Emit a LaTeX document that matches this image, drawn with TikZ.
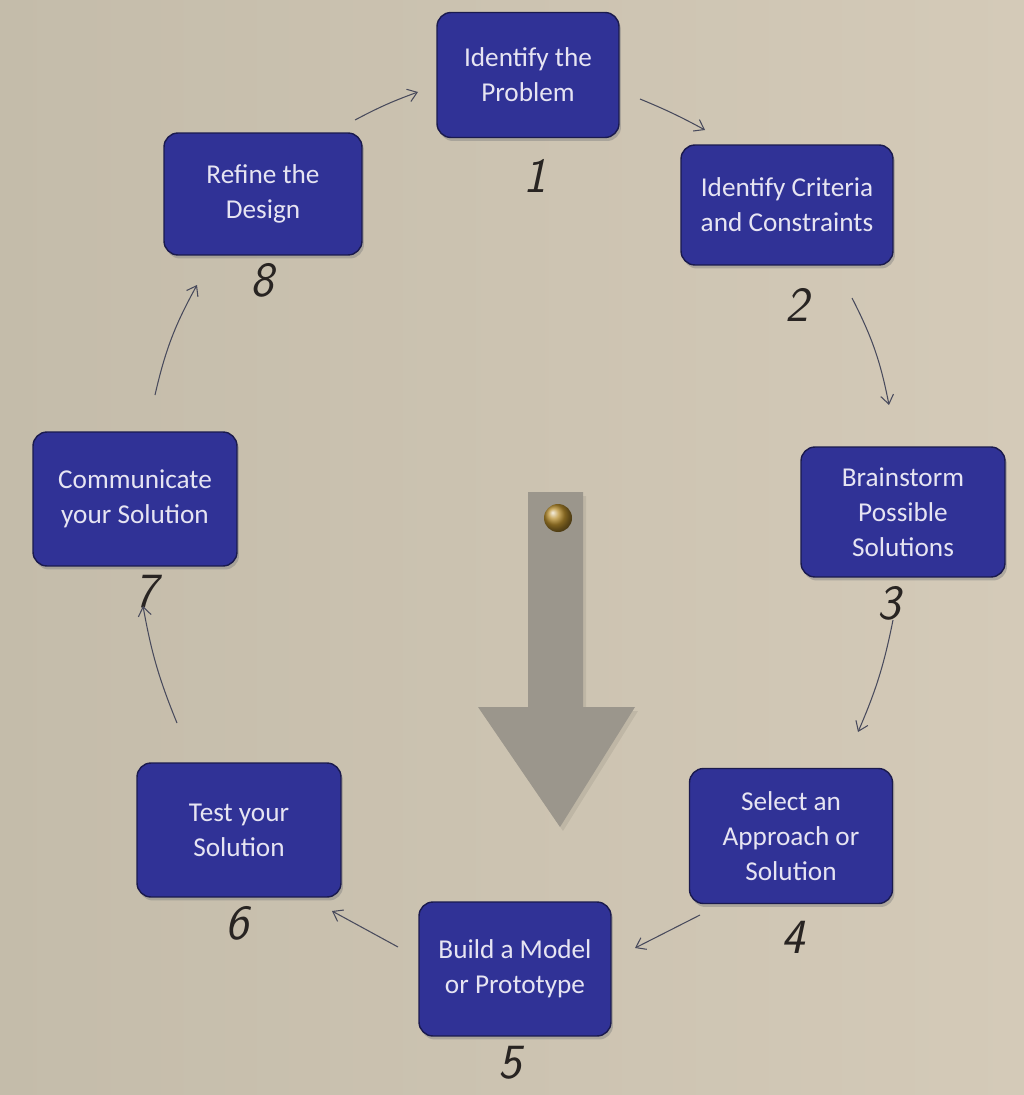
\documentclass[tikz,border=0pt]{standalone}
\usepackage{fontspec}
\setmainfont{Carlito}
\usetikzlibrary{arrows.meta,shadows}

\definecolor{paper}{RGB}{212,202,184}
\definecolor{paperdark}{RGB}{196,188,170}
\definecolor{cardblue}{RGB}{48,50,150}
\definecolor{cardedge}{RGB}{26,26,78}
\definecolor{cardtext}{RGB}{230,228,242}
\definecolor{pencil}{RGB}{72,74,92}
\definecolor{ink}{RGB}{40,36,34}
\definecolor{tin}{RGB}{155,150,140}
\definecolor{brass}{RGB}{184,142,46}

\tikzset{
  card/.style={draw=cardedge, line width=0.8pt, fill=cardblue, rounded corners=0.28cm,
    text=cardtext, align=center, inner sep=0pt,
    font=\fontsize{15.5}{20}\selectfont,
    drop shadow={shadow xshift=0.04cm, shadow yshift=-0.07cm, opacity=0.45}},
  num/.style={text=ink, font=\sffamily\itshape\fontsize{28}{30}\selectfont},
  flow/.style={draw=pencil, line width=0.6pt, -{Straight Barb[length=1.8mm,width=2.6mm]}},
}

\begin{document}
\begin{tikzpicture}[x=0.02cm, y=-0.02cm]
  \useasboundingbox (0,0) rectangle (1024,1095);
  \shade[left color=paperdark, right color=paper] (0,0) rectangle (1024,1095);

  % the grey pointer in the middle
  \fill[black, opacity=0.07] (531,496) -- (586,496) -- (586,711) -- (638,711) -- (563,831) -- (481,711) -- (531,711) -- cycle;
  \fill[tin] (528,492) -- (583,492) -- (583,707) -- (635,707) -- (560,827) -- (478,707) -- (528,707) -- cycle;
  \shade[ball color=brass] (558,518) circle (0.28cm);

  % the eight cards
  \node[card, minimum width=3.64cm, minimum height=2.5cm] (b1) at (528,75) {Identify the\\Problem};
  \node[card, minimum width=4.24cm, minimum height=2.4cm] (b2) at (787,205) {Identify Criteria\\and Constraints};
  \node[card, minimum width=4.08cm, minimum height=2.6cm] (b3) at (903,512) {Brainstorm\\Possible\\Solutions};
  \node[card, minimum width=4.06cm, minimum height=2.7cm] (b4) at (791,836) {Select an\\Approach or\\Solution};
  \node[card, minimum width=3.84cm, minimum height=2.68cm] (b5) at (515,969) {Build a Model\\or Prototype};
  \node[card, minimum width=4.08cm, minimum height=2.68cm] (b6) at (239,830) {Test your\\Solution};
  \node[card, minimum width=4.08cm, minimum height=2.68cm] (b7) at (135,499) {Communicate\\your Solution};
  \node[card, minimum width=3.96cm, minimum height=2.44cm] (b8) at (263,194) {Refine the\\Design};

  % handwritten step numbers
  \node[num] (n1) at (535,176) {1};
  \node[num] (n2) at (797,305) {2};
  \node[num] (n3) at (889,603) {3};
  \node[num] (n4) at (793,937) {4};
  \node[num] (n5) at (510,1063) {5};
  \node[num] (n6) at (237,923) {6};
  \node[num] (n7) at (146,592) {7};
  \node[num] (n8) at (262,280) {8};

  % pencil arrows between the cards
  \coordinate (s81) at (355,120);  \coordinate (e81) at (418,92);
  \coordinate (s12) at (640,99);   \coordinate (e12) at (705,130);
  \coordinate (s23) at (852,298);  \coordinate (e23) at (889,405);
  \coordinate (s34) at (893,620);  \coordinate (e34) at (858,732);
  \coordinate (s45) at (700,915);  \coordinate (e45) at (635,948);
  \coordinate (s56) at (398,947);  \coordinate (e56) at (332,911);
  \coordinate (s67) at (177,723);  \coordinate (e67) at (143,606);
  \coordinate (s78) at (155,395);  \coordinate (e78) at (197,285);

  \draw[flow] (s81) to[bend left=4] (e81);
  \draw[flow] (s12) to[bend left=3] (e12);
  \draw[flow] (s23) to[bend left=8] (e23);
  \draw[flow] (s34) to[bend left=6] (e34);
  \draw[flow] (s45) -- (e45);
  \draw[flow] (s56) -- (e56);
  \draw[flow] (s67) to[bend left=6] (e67);
  \draw[flow] (s78) to[bend left=8] (e78);

\end{tikzpicture}
\end{document}
